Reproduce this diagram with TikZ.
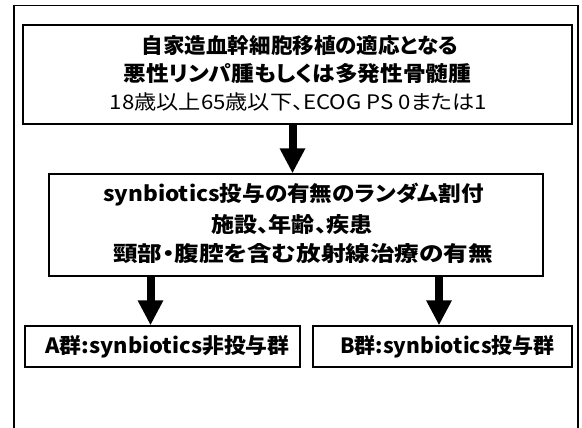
\documentclass[tikz,border=0pt]{standalone}
\usepackage{fontspec}
\setmainfont{Noto Sans CJK JP}[RawFeature=+palt]
\usetikzlibrary{arrows.meta}
\tikzset{
  boxn/.style={draw=black, line width=1.4pt, inner sep=0pt},
  txtb/.style={font=\bfseries\fontsize{21}{21}\selectfont, inner sep=0pt, anchor=center},
  txtr/.style={font=\fontsize{20}{20}\selectfont, inner sep=0pt, anchor=center},
  bigarrow/.style={line width=8pt, -{Triangle[width=24pt,length=25pt]}},
}
\begin{document}
\begin{tikzpicture}[x=1pt,y=-1pt]
\useasboundingbox (0,0) rectangle (582,428);
\begin{scope}
\clip (0,0) rectangle (582,428);
\draw[line width=1.4pt] (14,440) -- (14,5.5) -- (578,5.5) -- (578,440);
\end{scope}
% boxes
\node[boxn, minimum width=549pt, minimum height=99pt] (b1) at (297.5,74.5) {};
\node[boxn, minimum width=494pt, minimum height=102pt] (b2) at (296,225) {};
\node[boxn, minimum width=275pt, minimum height=41pt] (ga) at (162.5,346.5) {};
\node[boxn, minimum width=259pt, minimum height=41pt] (gb) at (442.5,346.5) {};
% texts
\node[txtb] (t11) at (300,46) {\scalebox{1.025}[1]{自家造血幹細胞移植の適応となる}};
\node[txtb] (t12) at (297.5,74) {\scalebox{1.08}[1]{悪性リンパ腫もしくは多発性骨髄腫}};
\node[txtr] (t13) at (298.5,102) {\scalebox{1.11}[1]{18歳以上65歳以下、ECOG PS 0または1}};
\node[txtb] (t21) at (293.5,195) {\scalebox{1.075}[1]{synbiotics投与の有無のランダム割付}};
\node[txtb] (t22) at (292,225) {\scalebox{1.1}[1]{施設、年齢、疾患}};
\node[txtb] (t23) at (303,254) {\scalebox{1.17}[1]{頸部・腹腔を含む放射線治療の有無}};
\node[txtb] (ta) at (167.5,347) {\scalebox{1.04}[1]{A群:synbiotics非投与群}};
\node[txtb] (tb) at (447.5,347) {B群:synbiotics投与群};
% arrows
\draw[bigarrow] ([xshift=-3.5pt]b2.north |- b1.south) -- ([xshift=-3.5pt]b2.north);
\draw[bigarrow] ([xshift=-12pt]ga.north |- b2.south) -- ([xshift=-12pt]ga.north);
\draw[bigarrow] ([xshift=-3.5pt]gb.north |- b2.south) -- ([xshift=-3.5pt]gb.north);
\end{tikzpicture}
\end{document}
